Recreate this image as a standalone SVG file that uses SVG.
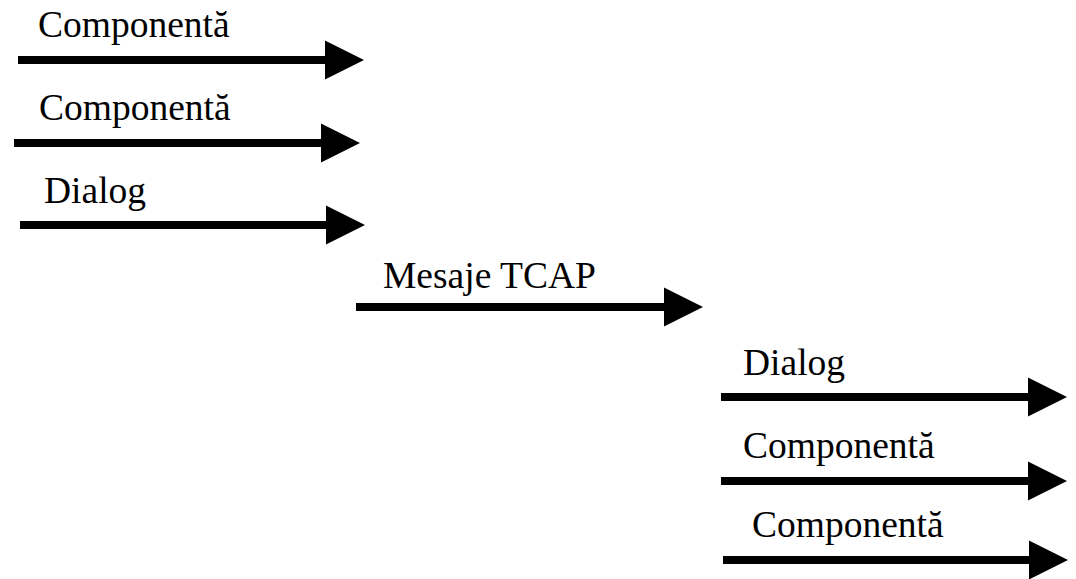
<svg xmlns="http://www.w3.org/2000/svg" width="1076" height="579" viewBox="0 0 1076 579">
<style>
.lbl{font-family:"Liberation Serif","Times New Roman",serif;font-size:37.5px;fill:#000}
.arr{stroke:#000;stroke-width:8;fill:none;marker-end:url(#head)}
</style>
<defs>
<marker id="head" markerUnits="userSpaceOnUse" markerWidth="40" markerHeight="40" viewBox="0 -20 40 40" refX="0" refY="0" orient="auto">
<path d="M0,-19.5 L39,0 L0,19.5 Z" fill="#000"/>
</marker>
</defs>
<rect width="1076" height="579" fill="#fff"/>
<g id="connectors">
<line class="arr" x1="18" y1="60" x2="325" y2="60"/>
<line class="arr" x1="14" y1="143" x2="321" y2="143"/>
<line class="arr" x1="20" y1="225" x2="326" y2="225"/>
<line class="arr" x1="356" y1="307" x2="664" y2="307"/>
<line class="arr" x1="721" y1="397" x2="1028" y2="397"/>
<line class="arr" x1="721" y1="481" x2="1028" y2="481"/>
<line class="arr" x1="723" y1="560" x2="1029" y2="560"/>
</g>
<g id="label1"><text class="lbl" x="38" y="37">Componentă</text></g>
<g id="label2"><text class="lbl" x="39" y="120">Componentă</text></g>
<g id="label3"><text class="lbl" x="44" y="203">Dialog</text></g>
<g id="label4"><text class="lbl" x="383" y="288">Mesaje TCAP</text></g>
<g id="label5"><text class="lbl" x="743" y="375">Dialog</text></g>
<g id="label6"><text class="lbl" x="743" y="458">Componentă</text></g>
<g id="label7"><text class="lbl" x="752" y="537">Componentă</text></g>
</svg>
